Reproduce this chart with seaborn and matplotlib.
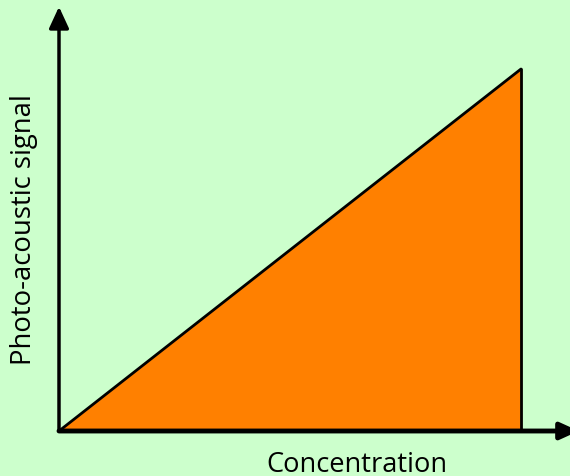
import matplotlib
matplotlib.use("Agg")
import matplotlib.pyplot as plt
import seaborn as sns
import pandas as pd

# data: signal rises linearly with concentration
concentration = [0.0, 1.0]
signal = [0.0, 1.0]

df = pd.DataFrame({"concentration": concentration, "signal": signal})

sns.set_style("white", {"axes.facecolor": "#ccffcc", "figure.facecolor": "#ccffcc"})
plt.rcParams["font.family"] = ["Open Sans", "DejaVu Sans"]

fig = plt.figure(figsize=(5.7, 4.77), dpi=100)
ax = fig.add_axes([0, 0, 1, 1])

# map data to the picture: x 0->59px, 1->521px ; y 0->432px, 1->70px
ax.set_xlim(-59 / 462, (570 - 59) / 462)
ax.set_ylim(-(477 - 432) / 362, 432 / 362)

ax.fill_between(df["concentration"], 0, df["signal"], color="#ff8000", zorder=2)
sns.lineplot(data=df, x="concentration", y="signal", color="black", lw=2, ax=ax, zorder=3)
ax.plot([concentration[-1], concentration[-1]], [0, signal[-1]], color="black", lw=2, zorder=3)

# axes with arrows
ax.annotate("", xy=(0, 1.172), xytext=(0, 0), annotation_clip=False,
            arrowprops=dict(arrowstyle="-|>,head_length=1.3,head_width=0.6", color="black", lw=2.5,
                            shrinkA=0, shrinkB=0), zorder=4)
ax.annotate("", xy=(1.125, 0), xytext=(0, 0), annotation_clip=False,
            arrowprops=dict(arrowstyle="-|>,head_length=1.1,head_width=0.5", color="black", lw=3.5,
                            shrinkA=0, shrinkB=0), zorder=4)

for s in ax.spines.values():
    s.set_visible(False)
ax.set_xticks([])
ax.set_yticks([])
ax.set_xlabel("")
ax.set_ylabel("")

fig.text(357 / 570, 1 - 472 / 477, "Concentration", ha="center", va="baseline",
         fontsize=19.6, color="black")
fig.text(24 / 570, 1 - 230 / 477, "Photo-acoustic signal", ha="center", va="center",
         rotation=90, fontsize=19.8, color="black")

fig.savefig("out.png", dpi=100, facecolor="#ccffcc")
